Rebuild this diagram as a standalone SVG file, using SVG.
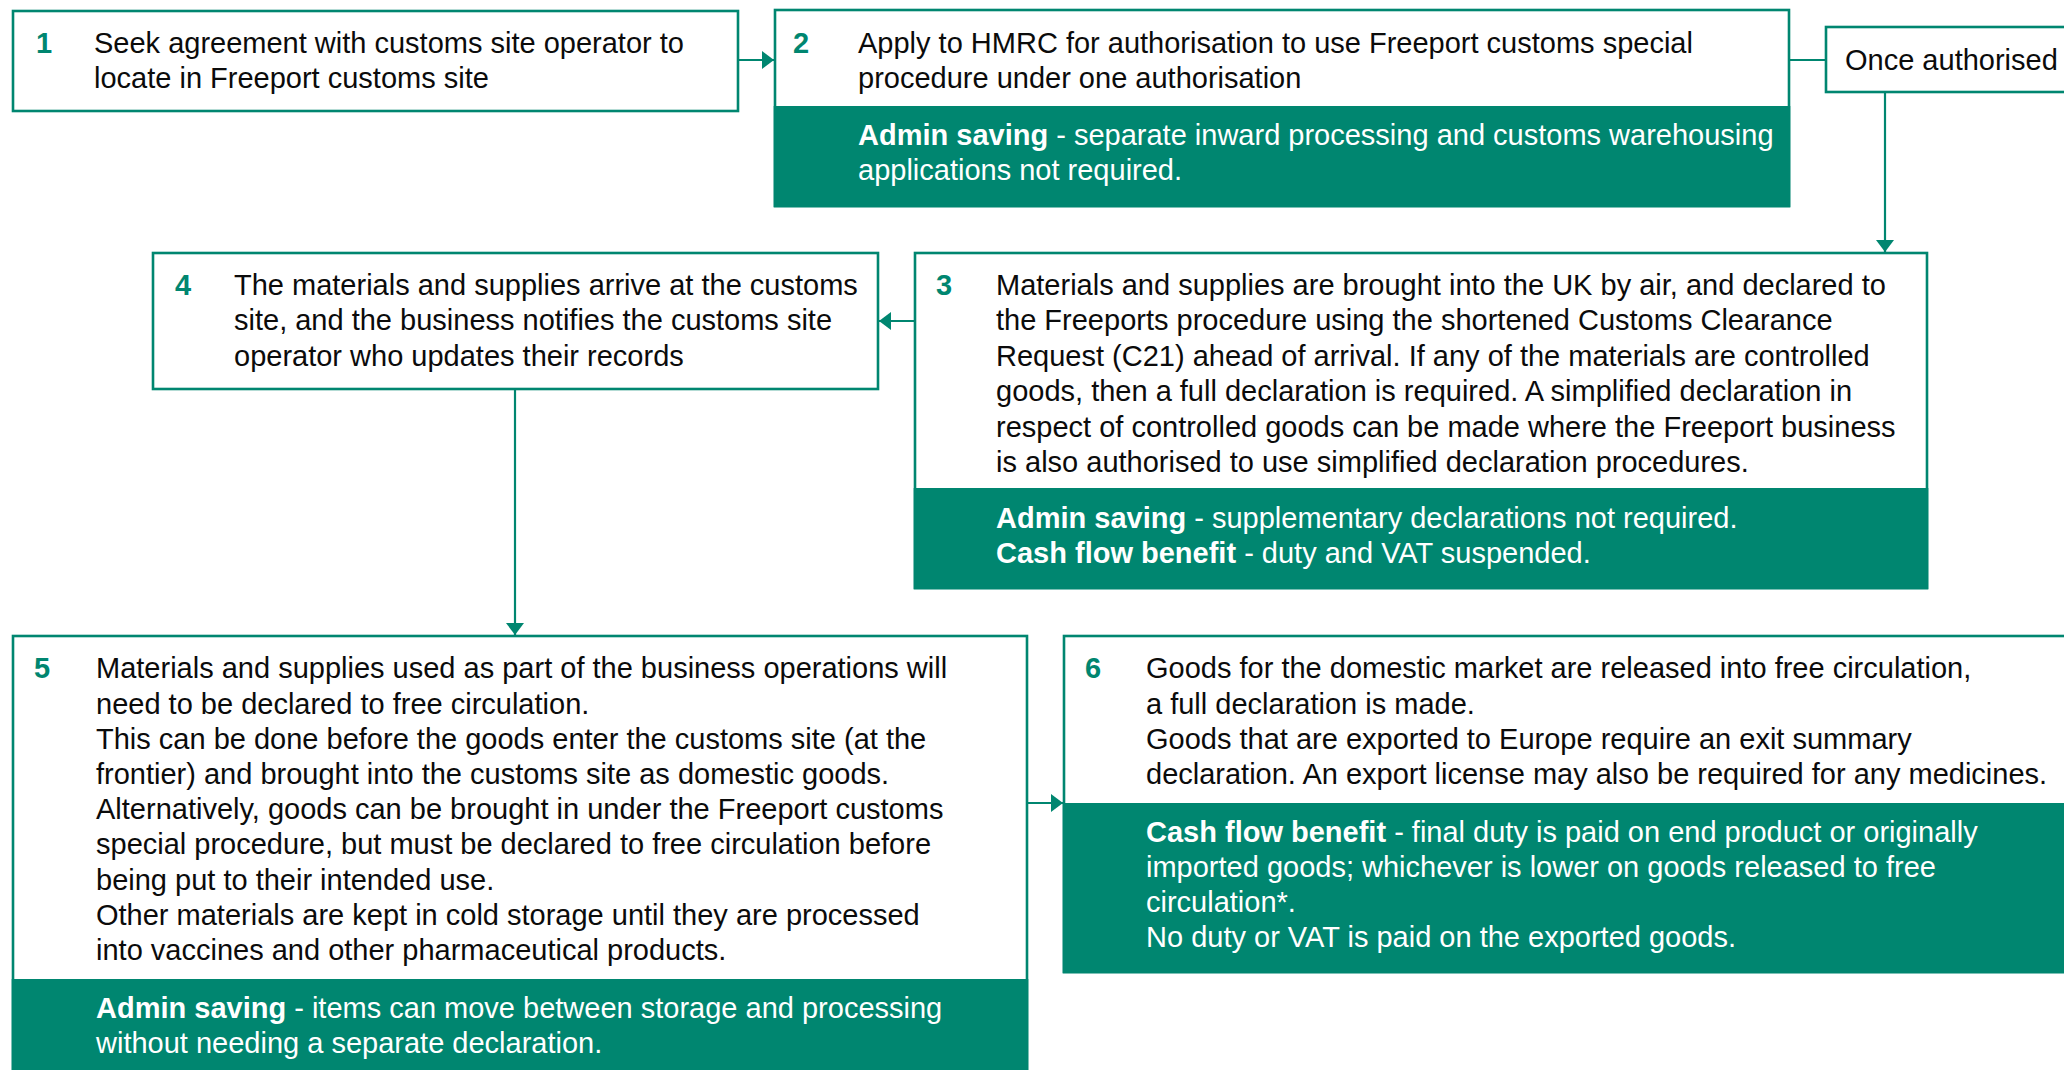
<svg xmlns="http://www.w3.org/2000/svg" width="2064" height="1070" viewBox="0 0 2064 1070">
<defs>
<style>
.box{fill:#ffffff;stroke:#008670;stroke-width:2.6}
.band{fill:#008670}
.t{font-family:"Liberation Sans",Arial,sans-serif;font-size:29px;fill:#0b0b0b}
.w{font-family:"Liberation Sans",Arial,sans-serif;font-size:29px;fill:#ffffff}
.n{font-family:"Liberation Sans",Arial,sans-serif;font-size:29px;font-weight:bold;fill:#008670}
.b{font-weight:bold}
.c{fill:none;stroke:#008670;stroke-width:2.2}
</style>
<marker id="ah" viewBox="0 0 12 18" refX="12" refY="9" markerWidth="12" markerHeight="18" markerUnits="userSpaceOnUse" orient="auto">
<path d="M0,0 L12,9 L0,18 Z" fill="#008670"/>
</marker>
</defs>
<rect width="2064" height="1070" fill="#ffffff"/>

<g id="connectors">
<line class="c" x1="738" y1="60" x2="774" y2="60" marker-end="url(#ah)"/>
<line class="c" x1="1789" y1="60" x2="1826" y2="60"/>
<line class="c" x1="1885" y1="92" x2="1885" y2="252" marker-end="url(#ah)"/>
<line class="c" x1="915" y1="321" x2="879" y2="321" marker-end="url(#ah)"/>
<line class="c" x1="515" y1="389" x2="515" y2="635" marker-end="url(#ah)"/>
<line class="c" x1="1027" y1="803" x2="1063" y2="803" marker-end="url(#ah)"/>
</g>

<g id="node1">
<rect class="box" x="13" y="11" width="725" height="100"/>
<text class="n" x="36" y="53">1</text>
<text class="t" x="94" y="53">Seek agreement with customs site operator to</text>
<text class="t" x="94" y="88">locate in Freeport customs site</text>
</g>

<g id="node2">
<rect class="box" x="775" y="10" width="1014" height="196"/>
<rect class="band" x="773.7" y="106" width="1016.6" height="101.3"/>
<text class="n" x="793" y="53">2</text>
<text class="t" x="858" y="53">Apply to HMRC for authorisation to use Freeport customs special</text>
<text class="t" x="858" y="88">procedure under one authorisation</text>
<text class="w" x="858" y="145"><tspan class="b">Admin saving</tspan> - separate inward processing and customs warehousing</text>
<text class="w" x="858" y="180">applications not required.</text>
</g>

<g id="node-once">
<rect class="box" x="1826" y="27" width="260" height="65"/>
<text class="t" x="1845" y="70">Once authorised</text>
</g>

<g id="node3">
<rect class="box" x="915" y="253" width="1012" height="335"/>
<rect class="band" x="913.7" y="488" width="1014.6" height="101.3"/>
<text class="n" x="936" y="295">3</text>
<text class="t" x="996" y="295">Materials and supplies are brought into the UK by air, and declared to</text>
<text class="t" x="996" y="330">the Freeports procedure using the shortened Customs Clearance</text>
<text class="t" x="996" y="366">Request (C21) ahead of arrival. If any of the materials are controlled</text>
<text class="t" x="996" y="401">goods, then a full declaration is required. A simplified declaration in</text>
<text class="t" x="996" y="437">respect of controlled goods can be made where the Freeport business</text>
<text class="t" x="996" y="472">is also authorised to use simplified declaration procedures.</text>
<text class="w" x="996" y="528"><tspan class="b">Admin saving</tspan> - supplementary declarations not required.</text>
<text class="w" x="996" y="563"><tspan class="b">Cash flow benefit</tspan> - duty and VAT suspended.</text>
</g>

<g id="node4">
<rect class="box" x="153" y="253" width="725" height="136"/>
<text class="n" x="175" y="295">4</text>
<text class="t" x="234" y="295">The materials and supplies arrive at the customs</text>
<text class="t" x="234" y="330">site, and the business notifies the customs site</text>
<text class="t" x="234" y="366">operator who updates their records</text>
</g>

<g id="node5">
<rect class="box" x="13" y="636" width="1014" height="450"/>
<rect class="band" x="11.7" y="979" width="1016.6" height="100"/>
<text class="n" x="34" y="678">5</text>
<text class="t" x="96" y="678">Materials and supplies used as part of the business operations will</text>
<text class="t" x="96" y="714">need to be declared to free circulation.</text>
<text class="t" x="96" y="749">This can be done before the goods enter the customs site (at the</text>
<text class="t" x="96" y="784">frontier) and brought into the customs site as domestic goods.</text>
<text class="t" x="96" y="819">Alternatively, goods can be brought in under the Freeport customs</text>
<text class="t" x="96" y="854">special procedure, but must be declared to free circulation before</text>
<text class="t" x="96" y="890">being put to their intended use.</text>
<text class="t" x="96" y="925">Other materials are kept in cold storage until they are processed</text>
<text class="t" x="96" y="960">into vaccines and other pharmaceutical products.</text>
<text class="w" x="96" y="1018"><tspan class="b">Admin saving</tspan> - items can move between storage and processing</text>
<text class="w" x="96" y="1053">without needing a separate declaration.</text>
</g>

<g id="node6">
<rect class="box" x="1064" y="636" width="1010" height="336"/>
<rect class="band" x="1062.7" y="803" width="1012" height="170.3"/>
<text class="n" x="1085" y="678">6</text>
<text class="t" x="1146" y="678">Goods for the domestic market are released into free circulation,</text>
<text class="t" x="1146" y="714">a full declaration is made.</text>
<text class="t" x="1146" y="749">Goods that are exported to Europe require an exit summary</text>
<text class="t" x="1146" y="784">declaration. An export license may also be required for any medicines.</text>
<text class="w" x="1146" y="842"><tspan class="b">Cash flow benefit</tspan> - final duty is paid on end product or originally</text>
<text class="w" x="1146" y="877">imported goods; whichever is lower on goods released to free</text>
<text class="w" x="1146" y="912">circulation*.</text>
<text class="w" x="1146" y="947">No duty or VAT is paid on the exported goods.</text>
</g>
</svg>
